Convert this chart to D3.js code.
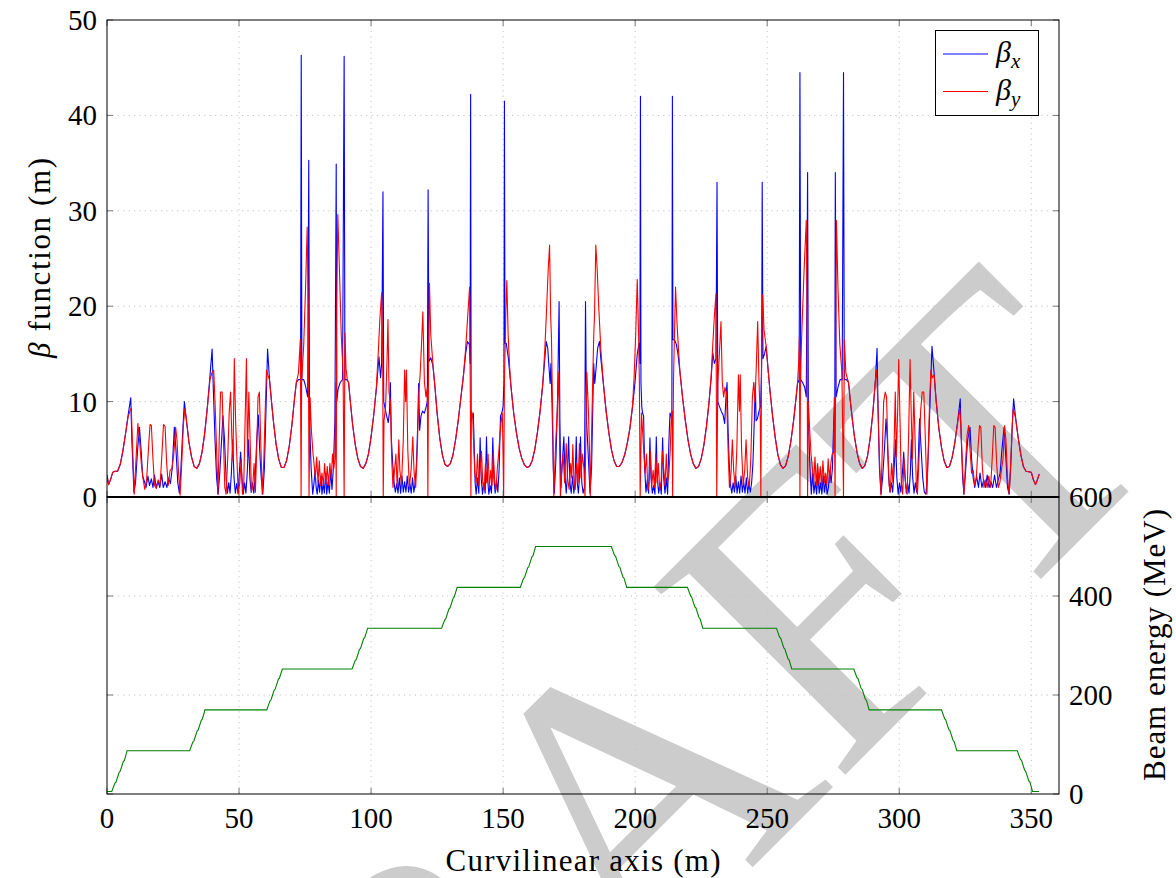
<!DOCTYPE html>
<html>
<head>
<meta charset="utf-8">
<script src="https://cdn.jsdelivr.net/npm/d3@7"></script>
<style>
  html, body { margin: 0; padding: 0; background: #fff; }
  svg { display: block; }
  .serif { font-family: "Liberation Serif"; font-kerning: none; }
</style>
</head>
<body>
<svg id="chart" width="1176" height="878"></svg>
<script>
// Curvilinear position s (m) and beta functions (m) along the lattice
const betaX = [
  [0,2.3],[0.6,1.3],[1.3,1.8],[2.2,2.6],[3,2.7],[4,2.7],[5,3.4],[6,4.8],[7,6.6],[8,8.6],[9.0,10.4],
  [9.4,6],[10.2,0.5],[10.8,1.5],[11.6,5],[12.3,7.3],[12.9,5],[13.5,2.2],[14.2,1.6],[14.8,1.0],[15.5,2.2],[16.1,1.2],[16.8,1.9],[17.4,1.0],[18.0,2.3],[18.6,1.0],[19.3,1.6],[20.0,1.0],[20.7,2.4],[21.3,1.0],[22.0,1.6],[22.7,1.0],[23.3,2.0],[24.0,1.4],[24.7,3],[25.5,7.3],[26.1,5],[26.8,1.5],[27.4,0.4],[28.0,3],[28.6,6.5],[29.3,10.0],
  [30.0,8.2],[31.0,5.8],[32.0,4.2],[33.0,3.2],[34.0,3.0],[35.0,3.5],[36.0,4.7],[37.0,6.7],[38.0,9.4],[39.0,12.7],[39.8,15.5],
  [40.3,11],[40.9,6],[41.5,2],[42.1,0.3],[42.7,2.5],[43.3,5.5],[43.9,8.5],[44.5,6],[45.1,2],[45.6,0.4],[46.1,1.5],[46.6,0.4],[47.1,2.5],[47.6,6.0],[48.1,2],[48.6,0.4],[49.1,1.4],[49.6,0.4],[50.1,2.5],[50.6,4.7],[51.1,2],[51.6,0.3],[52.1,1.5],[52.6,0.4],[53.1,2.5],[53.6,6.0],[54.1,2],[54.6,0.5],[55.1,1.5],[55.6,0.4],[56.1,2],[56.7,6],[57.3,8.6],[57.8,5],[58.4,2],[59.0,0.3],[59.6,3],[60.2,9],[60.8,15.5],
  [61.5,12.5],[62.3,10.0],[63,8.0],[64,5.6],[65,4.0],[66,3.1],[67,3.1],[68,3.8],[69,5.3],[70,7.5],[71,10.3],[71.7,12.0],
  [72.5,12.3],[73.3,12.3],[73.55,46.3],[73.8,12.3],[74.5,12.3],[75.3,11.5],[76.0,10.5],[76.4,35.3],[76.7,8],[77.3,3],[77.9,0.3],
  [78.4,1.5],[78.8,2.8],[79.2,1.0],[79.6,0.3],[80.1,1.8],[80.5,0.5],[81.0,2.2],[81.4,0.3],[81.9,1.5],[82.3,0.4],[82.8,2.5],[83.2,0.3],[83.7,1.6],[84.2,0.4],[84.7,2.8],[85.2,0.8],[85.7,3],[86.3,8],[86.8,34.9],[87.0,10],[87.5,11.3],[88.3,12.0],[89.2,12.3],[89.8,46.2],[90.1,12.3],[90.8,12.3],[91.5,12.0],
  [92,10.4],[93,7.6],[94,5.5],[95,4.0],[96,3.2],[97,3.0],[98,3.5],[99,4.5],[100,6.3],[101,8.6],[102,11.3],[103,14.7],
  [103.6,12.5],[104.0,14],[104.5,32.0],[104.8,10],[105.3,9.3],[105.9,8.5],[106.5,7.8],[107.0,9],[107.3,12.0],[107.7,6],[108.2,3.5],[108.7,1.5],
  [109.2,0.5],[109.7,1.4],[110.2,0.4],[110.7,2.0],[111.2,0.4],[111.7,2.2],[112.2,0.5],[112.7,1.6],[113.2,0.5],[113.7,2.2],[114.2,0.5],[114.7,1.4],[115.2,0.4],[115.7,2.0],[116.2,0.5],[116.7,1.5],[117.2,3.5],[117.7,8],[118.0,11.9],[118.4,7],[118.9,8.5],[119.5,9.0],[120.2,8.8],[120.9,9.5],[121.3,10],[121.6,32.2],[121.9,14.2],[122.6,14.6],[123.4,13.8],
  [124.2,11.5],[125,8.8],[126,6.2],[127,4.4],[128,3.4],[129,3.2],[130,3.5],[131,4.4],[132,6.0],[133,8.0],[134,10.4],[135,12.8],[135.8,15.0],[136.5,16.3],[137.2,16.0],[137.5,14],[137.7,42.2],[137.9,8],
  [138.3,8.5],[138.7,8.8],[139.0,6],[139.4,1.5],[139.8,0.3],[140.3,2],[140.8,0.4],[141.3,6.2],[141.7,2],[142.2,0.3],[142.7,1.5],[143.2,0.4],[143.7,6.3],[144.1,2],[144.6,0.3],[145.1,1.2],[145.6,0.4],[146.1,6.2],[146.5,2],[147.0,0.4],[147.5,1.8],[148.0,0.5],[148.5,3],[149.0,8.5],[149.5,8.8],[150.0,9.5],[150.3,12],[150.5,41.5],[150.7,16.1],[151.2,16.1],
  [152,14.5],[153,11.5],[154,8.8],[155,6.8],[156,5.2],[157,4.1],[158,3.4],[159,3.1],[160,3.2],[161,3.8],[162,5.0],[163,6.8],[164,9.0],[165,11.8],[165.8,14.5],
  [166.3,16.3],[166.9,15.6],[167.4,13.5],[167.8,11.9],[168.1,14],[168.5,10],[169.0,3],[169.4,0.4],[170.0,4],[170.6,10],[171.2,20.5],[171.5,8],[171.9,1],
  [172.3,3],[173.0,6.3],[173.5,2],[173.9,0.4],[174.3,2],[174.8,6.3],[175.3,1.5],[175.8,0.4],[176.3,2.2],[176.8,0.4],[177.2,1.5],[177.7,6.3],[178.1,1.5],[178.5,0.4],[178.9,2],[179.3,6.3],[179.8,1.5],[180.3,0.4],
  [180.8,1],[181.2,20.5],[181.6,8],[182.3,4],[182.9,0.4],[183.5,3],[184.0,10],[184.3,14],[184.7,11.9],[185.2,13.5],[185.8,15.6],[186.5,16.3],[187.0,14.5],
  [188,11.8],[189,9.0],[190,6.8],[191,5.0],[192,3.8],[193,3.2],[194,3.2],[195,3.6],[196,4.4],[197,5.6],[198,7.2],[199,9.4],[200,12.2],[200.8,15.0],[201.5,16.1],[201.8,14],[202.0,42],[202.2,12],[202.5,9.5],
  [202.8,8.8],[203.2,8.5],[203.6,3],[204.1,0.5],[204.6,1.8],[205.1,0.4],[205.6,6.2],[206.0,2],[206.5,0.4],[207.0,1.2],[207.5,0.3],[208.0,6.3],[208.4,2],[208.9,0.4],[209.4,1.5],[209.9,0.3],[210.4,6.2],[210.8,2],[211.3,0.4],[211.8,2],[212.3,0.3],[212.8,6],[213.2,8.8],[213.6,8.5],[213.9,8],[214.1,42],[214.3,16.5],[215.0,16.4],[215.6,16.0],
  [216.2,15.0],[217,13.0],[218,10.3],[219,8.0],[220,6.0],[221,4.5],[222,3.5],[223,3.0],[224,3.2],[225,4.0],[226,5.4],[227,7.4],[228,10.0],[228.8,12.5],[229.4,15.1],[230.0,14],[230.6,14.5],[231.0,33],
  [231.3,10],[231.9,9.5],[232.6,9.0],[233.3,8.6],[233.9,7.7],[234.4,10.5],[234.8,12],[235.2,7],[235.7,3],[236.1,1.3],[236.6,0.4],[237.1,1.5],[237.6,0.5],[238.1,2.2],[238.6,0.4],[239.1,1.6],[239.6,0.4],[240.1,2.2],[240.6,0.5],[241.1,1.6],[241.6,0.4],[242.1,2.0],[242.6,0.4],[243.1,1.4],[243.6,0.5],[244.1,1.5],[244.6,3.5],[245.1,7.8],[245.5,12],[245.8,8],[246.3,8.2],[246.9,9.0],[247.5,9.5],[247.9,14],[248.1,33],[248.4,14.5],[249.0,15.0],[249.6,15.8],
  [250.3,13.5],[251,11.3],[252,8.6],[253,6.3],[254,4.5],[255,3.4],[256,3.0],[257,3.3],[258,4.3],[259,5.9],[260,8.0],[261,10.6],[261.5,11.9],
  [262.1,12.3],[262.4,44.5],[262.7,12.3],[263.4,12.0],[264.2,11.5],[264.8,10.5],[265.3,34],[265.6,8],[266.2,3],[266.7,0.3],
  [267.2,2.5],[267.7,0.4],[268.2,1.6],[268.7,0.3],[269.2,2.5],[269.7,0.4],[270.2,1.5],[270.7,0.3],[271.2,2.2],[271.7,0.5],[272.2,1.8],[272.7,0.3],[273.2,1.0],[273.7,2.8],[274.2,1.5],[274.7,3],
  [275.2,8],[275.6,10],[275.8,34],[276.1,10.5],[276.8,11.5],[277.6,12.3],[278.4,12.3],[278.9,44.5],[279.2,12.3],[280.0,12.3],[280.8,12.0],
  [281.5,10.0],[282.3,8.0],[283,6.4],[284,4.7],[285,3.5],[286,3.0],[287,3.3],[288,4.3],[289,6.2],[290,8.8],[291,12.3],[291.6,15.6],
  [292.0,9],[292.5,3],[293.1,0.3],[293.7,2],[294.4,5],[295.0,8.2],[295.5,6],[296.0,2],[296.5,0.5],[297.0,1.5],[297.5,0.5],[298.0,2.5],[298.6,6.0],[299.1,2],[299.6,0.3],[300.1,1.5],[300.6,0.5],[301.2,2.5],[301.7,4.7],[302.2,2],[302.7,0.4],[303.2,1.4],[303.7,0.4],[304.2,2.5],[304.6,6.0],[305.1,2],[305.6,0.4],[306.1,1.5],[306.6,0.5],[307.1,3],[307.7,8.2],[308.3,5],[308.9,2],[309.5,0.5],[310.1,0.3],[310.6,2],[311.2,6],[311.8,11],[312.4,15.8],
  [313.2,13.0],[314,10.0],[315,7.2],[316,5.2],[317,3.8],[318,3.1],[319,3.2],[320,4.1],[321,5.6],[322,7.6],[322.7,9.3],[323.1,10.3],
  [323.5,6],[324.0,2],[324.5,0.3],[325.2,3],[325.9,6],[326.8,7.3],[327.4,4],[328.0,2],[328.6,1.0],[329.3,2.2],[330.0,1.0],[330.6,2.5],[331.3,1.0],[332.0,1.8],[332.7,1.0],[333.3,2.3],[334.0,1.0],[334.7,1.6],[335.4,1.0],[336.1,2.3],[336.8,1.0],[337.5,1.8],[338.2,2.5],[338.9,5],[339.7,7.3],[340.4,4],[341.0,1],[341.6,0.3],[342.2,3],[342.8,7.5],[343.3,10.3],
  [344,8.5],[345,6.3],[346,4.5],[347,3.2],[348,2.7],[349,2.65],[350,2.6],[350.8,1.8],[351.6,1.3],[352.3,1.8],[353.0,2.4]
];

const betaY = [
  [0,2.3],[0.6,1.3],[1.3,1.8],[2.2,2.6],[3,2.7],[4,2.7],[5,3.4],[6,4.8],[7,6.6],[8,8.4],[8.8,9.1],[9.2,9.3],
  [9.6,6],[10.3,0.3],[11.0,4],[11.7,7.7],[12.3,6],[13.0,3.5],[13.6,2.0],[14.3,0.8],[15.0,1.8],[15.8,5.5],[16.3,7.6],[16.8,7.5],[17.4,4],[18.0,1.2],[18.7,0.9],[19.4,1.8],[20.1,1.2],[20.8,4.5],[21.4,7.6],[22.0,7.4],[22.6,3.5],[23.2,1.2],[23.9,2.8],[24.6,3.0],[25.3,4.5],[26.0,7.3],[26.5,6.0],[27.1,2.5],[27.7,0.2],[28.3,3.5],[28.9,7.5],[29.5,9.3],
  [30.2,7.8],[31.0,5.8],[32.0,4.2],[33.0,3.2],[34.0,3.0],[35.0,3.5],[36.0,4.7],[37.0,6.7],[38.0,9.4],[39.0,12.3],[39.7,13.0],[40.4,13.3],
  [40.9,10],[41.5,5],[42.0,0.3],[42.5,6],[43.0,11],[43.6,11],[44.1,6],[44.6,1],[45.1,0.3],[45.7,4],[46.3,9],[46.8,11],[47.3,6],[47.7,3.8],[48.2,14.5],[48.7,8],[49.2,4],[49.7,0.3],[50.3,1.5],[50.8,4],[51.3,0.3],[51.8,1.5],[52.3,8],[52.8,14.5],[53.2,4.2],[53.7,11],[54.2,6],[54.7,0.5],[55.2,1.2],[55.7,3.5],[56.2,0.5],[56.7,5],[57.2,10.5],[57.7,11],[58.2,6],[58.8,0.3],[59.4,4],[59.9,9],[60.4,13.3],[60.9,12.8],
  [61.5,12.3],[62.3,10.0],[63,8.0],[64,5.6],[65,4.0],[66,3.1],[67,3.1],[68,3.8],[69,5.3],[70,7.5],[71,10.3],[71.7,12.0],
  [72.5,13],[73.2,16.5],[73.5,0],[73.7,12],[74.5,16],[75.2,22],[75.8,28.3],[76.2,20],[76.5,0],[76.9,10.4],[77.4,7],[78.0,4.6],
  [78.4,3.5],[78.9,2],[79.4,4.2],[79.9,1.5],[80.4,3.8],[80.9,1.2],[81.4,2.5],[81.9,1.2],[82.4,3.5],[82.9,1.4],[83.4,3.2],[83.9,1.2],[84.4,3.5],[84.9,2],[85.4,4.5],[85.9,3],[86.3,4],[86.6,12],[86.8,0],[87.0,20],[87.4,29.6],[88.0,24],[88.7,17],[89.4,13],[89.8,0],[90.1,17.2],[90.5,13.5],[91.0,12.3],[91.5,12.0],
  [92,10.4],[93,7.6],[94,5.5],[95,4.0],[96,3.2],[97,3.0],[98,3.5],[99,4.5],[100,6.3],[101,8.6],[102,11.5],[102.7,15],[103.3,18.5],[104.0,21.4],[104.4,15],[104.6,0],[104.9,8],[105.5,9.5],[106.0,14],[106.4,18.6],[106.8,11],[107.3,10],[107.8,4],[108.3,1],
  [108.8,2.5],[109.4,4.5],[109.9,1.0],[110.5,6.0],[110.9,2.8],[111.5,1.2],[112.2,6],[112.7,13.3],[113.1,10],[113.4,13.3],[113.9,5],[114.5,1.0],[115.2,3],[115.8,6.3],[116.3,2.5],[116.9,1.0],[117.5,5],[118.1,10.9],[118.6,13],[119.1,16],[119.6,19.4],[120.2,12],[120.8,10.5],[121.3,11.5],[121.5,0],[121.8,15],[122.1,22.4],[122.6,17],[123.4,14.0],
  [124.2,11.5],[125,8.8],[126,6.2],[127,4.4],[128,3.4],[129,3.2],[130,3.5],[131,4.4],[132,6.0],[133,8.0],[134,10.4],[135,12.8],[135.8,15.5],[136.5,18.5],[137.3,22.0],[137.6,10],[137.8,0],
  [138.0,9],[138.5,8.5],[138.9,5],[139.3,2.5],[139.8,1.5],[140.3,4.5],[140.8,1.2],[141.3,3],[141.8,4.8],[142.3,1.5],[142.8,0.7],[143.3,3.5],[143.8,1.5],[144.3,4.5],[144.8,1],[145.3,2.8],[145.8,1.2],[146.3,4.8],[146.8,1.5],[147.3,0.7],[147.8,3],[148.3,4.5],[148.8,6.5],[149.3,8],[149.7,8.8],[150.0,4],[150.2,0],[150.5,12],[151.0,19],[151.4,22.7],[151.9,17],[152.5,13.5],
  [153,11.5],[154,8.8],[155,6.8],[156,5.2],[157,4.1],[158,3.4],[159,3.1],[160,3.2],[161,3.8],[162,5.0],[163,6.8],[164,9.0],[165,11.8],[165.8,15.5],[166.5,20],[167.1,24],[167.6,26.4],[168.0,19],[168.3,16.8],[168.8,8],[169.2,0],[169.8,5],[170.5,9],[171.1,13.1],[171.4,5],[171.7,0],
  [172.2,3],[172.7,4.5],[173.3,1.5],[173.9,5.6],[174.4,2],[175.0,0.8],[175.6,3.5],[176.0,2],[176.4,5.5],[176.8,2],[177.3,0.8],[177.9,3.5],[178.4,1.5],[178.9,5.6],[179.5,2],[180.0,4.5],[180.6,3],[181.0,0],[181.7,13.1],[182.3,9],[182.7,5],[183.0,0],[183.6,8],[184.3,16.8],[184.6,19],[185.1,26.4],[185.6,24],[186.2,20],[187.0,15.5],
  [188,11.8],[189,9.0],[190,6.8],[191,5.0],[192,3.8],[193,3.2],[194,3.2],[195,3.6],[196,4.4],[197,5.6],[198,7.2],[199,9.6],[199.6,12.5],[200.2,17],[200.8,22.8],[201.3,17],[201.6,12],[201.9,0],
  [202.4,8.8],[202.8,7],[203.3,4.5],[203.8,2.5],[204.3,4.5],[204.8,0.7],[205.3,1.5],[205.8,4.8],[206.3,1.2],[206.8,2.8],[207.3,1],[207.8,4.5],[208.3,1.5],[208.8,3.5],[209.3,0.7],[209.8,1.5],[210.3,4.8],[210.8,3],[211.3,1.2],[211.8,4.5],[212.3,1.5],[212.8,2.5],[213.3,5],[213.7,8.5],[214.0,9],[214.2,0],[214.5,12],[215.0,18.5],[215.3,22.0],[215.8,18.5],[216.4,15.5],
  [217,13.0],[218,10.3],[219,8.0],[220,6.0],[221,4.5],[222,3.5],[223,3.0],[224,3.2],[225,4.0],[226,5.4],[227,7.4],[228,10.0],[228.8,12.8],[229.4,16],[230.0,19],[230.6,21.3],[230.9,0],
  [231.3,12],[231.9,15],[232.5,18.4],[233.0,12],[233.5,10.5],[234.0,11.5],[234.6,10.8],[235.2,5],[235.7,1.0],[236.3,2.5],[236.8,6.0],[237.3,2.8],[237.9,1.0],[238.5,5],[239.1,12.8],[239.5,9],[239.8,12.8],[240.3,5],[240.9,1.2],[241.5,2.8],[242.0,6.0],[242.6,2],[243.2,1.0],[243.8,4],[244.4,10.5],[244.9,12],[245.4,10],[245.9,14],[246.4,18.4],[246.9,12],[247.4,8],[247.6,0],[247.9,15],[248.3,21.2],[248.8,17.5],[249.6,15.8],
  [250.3,13.5],[251,11.3],[252,8.6],[253,6.3],[254,4.5],[255,3.4],[256,3.0],[257,3.3],[258,4.3],[259,5.9],[260,8.0],[261,10.6],[261.5,12.0],[261.9,14],[262.2,16.8],[262.4,0],[262.6,13],[263.2,18],[264.0,24],[264.8,29],[265.1,20],[265.3,0],[265.6,10],[266.1,7],[266.6,4.5],
  [267.1,3],[267.6,1.5],[268.1,4.2],[268.6,1.2],[269.1,3.5],[269.6,1.4],[270.1,3.2],[270.6,1.2],[271.1,3.8],[271.6,1.5],[272.1,2.5],[272.6,1.2],[273.1,4.0],[273.6,1.5],[274.1,3.5],[274.6,4.5],[275.1,4.6],[275.4,10.4],[275.7,0],[276.2,29],[276.8,22],[277.5,16],[278.3,13],[278.9,0],[279.2,16.5],[279.8,13],[280.8,12.0],
  [281.5,10.0],[282.3,8.0],[283,6.4],[284,4.7],[285,3.5],[286,3.0],[287,3.3],[288,4.3],[289,6.2],[290,8.8],[291,12.3],[291.4,13.3],
  [291.9,10],[292.5,4],[293.1,0.2],[293.6,5],[294.1,10],[294.7,11.0],[295.2,10.5],[295.7,5],[296.2,1.2],[296.6,0.5],[297.1,3.5],[297.6,1.5],[298.1,6],[298.5,11.0],[298.9,4.2],[299.4,9],[299.8,14.4],[300.3,8],[300.8,1.5],[301.3,0.3],[301.8,4],[302.4,1.5],[303.0,0.3],[303.6,7],[304.1,14.4],[304.6,8],[305.0,4],[305.5,11.0],[306.0,6],[306.5,1],[306.9,0.3],[307.5,4],[308.1,9],[308.7,11.0],[309.3,11.0],[309.9,6],[310.5,0.3],[311.0,5],[311.5,10],[312.0,13.3],[312.5,12.5],
  [313.2,12.8],[314,10.0],[315,7.2],[316,5.2],[317,3.8],[318,3.1],[319,3.2],[320,4.1],[321,5.6],[322,7.6],[322.9,9.3],
  [323.4,7],[324.0,3],[324.5,0.3],[325.1,3.5],[325.7,6.5],[326.3,7.5],[326.8,5],[327.4,2.5],[328.0,2.8],[328.6,1.2],[329.2,2],[329.8,5],[330.4,7.5],[330.9,7.3],[331.5,3],[332.1,1],[332.7,1.8],[333.3,1.0],[333.9,2.2],[334.6,1],[335.2,4],[335.8,7.5],[336.3,7.3],[336.9,3.5],[337.5,1],[338.1,1.5],[338.7,2.8],[339.3,4],[339.9,7.5],[340.4,6],[341.0,2],[341.6,0.3],[342.2,3.5],[342.8,7.5],[343.2,9.3],
  [344,8.3],[345,6.3],[346,4.5],[347,3.2],[348,2.7],[349,2.65],[350,2.6],[350.8,1.8],[351.6,1.3],[352.3,1.8],[353.0,2.4]
];

// Beam energy (MeV) along s: six accelerating passes up, six decelerating passes down
const beamEnergy = [
  [0,5],[1.8,5],[3.0,22],[3.4,24],[4.6,44],[5.0,46],[6.2,66],[6.6,68],[7.6,87.5],
  [31.3,87.5],[32.5,105],[32.9,107],[34.1,127],[34.5,129],[35.7,149],[36.1,151],[37.1,170],
  [60.5,170],[61.7,188],[62.1,190],[63.3,210],[63.7,212],[64.9,232],[65.3,234],[66.4,252.5],
  [92.8,252.5],[94.0,270],[94.4,272],[95.6,292],[96.0,294],[97.2,314],[97.6,316],[98.7,335],
  [126.7,335],[127.9,352],[128.3,354],[129.5,374],[129.9,376],[131.1,396],[131.5,398],[132.6,417.5],
  [156.5,417.5],[157.7,435],[158.1,437],[159.3,457],[159.7,459],[160.9,479],[161.3,481],[162.3,500],
  [191.0,500],[192.2,482],[192.6,480],[193.8,460],[194.2,458],[195.4,438],[195.8,436],[196.8,417.5],
  [219.8,417.5],[221.0,400],[221.4,398],[222.6,378],[223.0,376],[224.2,356],[224.6,354],[225.6,335],
  [253.5,335],[254.7,317],[255.1,315],[256.3,295],[256.7,293],[257.9,273],[258.3,271],[259.3,252.5],
  [282.8,252.5],[284.0,235],[284.4,233],[285.6,213],[286.0,211],[287.2,191],[287.6,189],[288.6,170],
  [316.0,170],[317.2,152],[317.6,150],[318.8,130],[319.2,128],[320.4,108],[320.8,106],[321.8,87.5],
  [344.7,87.5],[345.9,70],[346.3,68],[347.5,48],[347.9,46],[349.1,26],[349.5,24],[350.5,5],[352.9,5]
];

const sTicks = [0, 50, 100, 150, 200, 250, 300, 350];
const betaTicks = [0, 10, 20, 30, 40, 50];
const energyTicks = [0, 200, 400, 600];

const svg = d3.select("#chart");
const W = 1176, H = 878;
const left = 107, right = 1059, topY = 20, midY = 497, bottomY = 794;

svg.append("rect").attr("width", W).attr("height", H).attr("fill", "#fff");

const x = d3.scaleLinear().domain([0, 360.5]).range([left, right]);
const yBeta = d3.scaleLinear().domain([0, 50]).range([midY, topY]);
const yEnergy = d3.scaleLinear().domain([0, 600]).range([bottomY, midY]);

// Draft stamp, drawn first so the plot sits on top of it; clipped to the page
svg.append("defs").append("clipPath").attr("id", "clipPage").append("rect")
  .attr("x", 0).attr("y", 0).attr("width", W).attr("height", H);
svg.append("g").attr("clip-path", "url(#clipPage)")
  .append("text").attr("class", "serif")
  .attr("transform", "translate(223,1397) rotate(-45)")
  .attr("text-anchor", "start")
  .style("font-size", "410px")
  .style("fill", "#cccccc")
  .text("DRAFT");

// Grids (dotted)
const grid = svg.append("g").attr("stroke", "#c4c4c4").attr("stroke-width", 1)
  .attr("stroke-dasharray", "1.2,4.2").attr("fill", "none");
sTicks.filter(d => d > 0).forEach(d => {
  grid.append("line").attr("x1", x(d)).attr("x2", x(d)).attr("y1", topY).attr("y2", bottomY);
});
betaTicks.filter(d => d > 0 && d < 50).forEach(d => {
  grid.append("line").attr("x1", left).attr("x2", right).attr("y1", yBeta(d)).attr("y2", yBeta(d));
});
energyTicks.filter(d => d > 0 && d < 600).forEach(d => {
  grid.append("line").attr("x1", left).attr("x2", right).attr("y1", yEnergy(d)).attr("y2", yEnergy(d));
});

// Tick marks (inward, both panels)
const ticks = svg.append("g").attr("stroke", "#777").attr("stroke-width", 1);
const tl = 6;
sTicks.forEach(d => {
  const xx = x(d);
  ticks.append("line").attr("x1", xx).attr("x2", xx).attr("y1", topY).attr("y2", topY + tl);
  ticks.append("line").attr("x1", xx).attr("x2", xx).attr("y1", midY - tl).attr("y2", midY + tl);
  ticks.append("line").attr("x1", xx).attr("x2", xx).attr("y1", bottomY - tl).attr("y2", bottomY);
});
betaTicks.forEach(d => {
  const yy = yBeta(d);
  ticks.append("line").attr("x1", left).attr("x2", left + tl).attr("y1", yy).attr("y2", yy);
  ticks.append("line").attr("x1", right - tl).attr("x2", right).attr("y1", yy).attr("y2", yy);
});
energyTicks.forEach(d => {
  const yy = yEnergy(d);
  ticks.append("line").attr("x1", left).attr("x2", left + tl).attr("y1", yy).attr("y2", yy);
  ticks.append("line").attr("x1", right - tl).attr("x2", right).attr("y1", yy).attr("y2", yy);
});

// Clip regions for the curves
const defs = svg.append("defs");
defs.append("clipPath").attr("id", "clipTop").append("rect")
  .attr("x", left).attr("y", topY).attr("width", right - left).attr("height", midY - topY + 1);
defs.append("clipPath").attr("id", "clipBot").append("rect")
  .attr("x", left).attr("y", midY).attr("width", right - left).attr("height", bottomY - midY);

const line = d3.line().x(d => x(d[0])).y(d => yBeta(d[1])).curve(d3.curveLinear);
const eLine = d3.line().x(d => x(d[0])).y(d => yEnergy(d[1])).curve(d3.curveLinear);

const plot = svg.append("g").attr("clip-path", "url(#clipTop)");
plot.append("path").datum(betaX).attr("d", line)
  .attr("fill", "none").attr("stroke", "#0000ff").attr("stroke-width", 1.1).attr("stroke-linejoin", "round");
plot.append("path").datum(betaY).attr("d", line)
  .attr("fill", "none").attr("stroke", "#ff0000").attr("stroke-width", 1.1).attr("stroke-linejoin", "round");

svg.append("g").attr("clip-path", "url(#clipBot)")
  .append("path").datum(beamEnergy).attr("d", eLine)
  .attr("fill", "none").attr("stroke", "#008000").attr("stroke-width", 1.1);

// Frames
const frame = svg.append("g").attr("fill", "none").attr("stroke", "#000");
frame.append("rect").attr("x", left).attr("y", topY).attr("width", right - left).attr("height", midY - topY).attr("stroke-width", 1);
frame.append("rect").attr("x", left).attr("y", midY).attr("width", right - left).attr("height", bottomY - midY).attr("stroke-width", 1);
frame.append("line").attr("x1", left).attr("x2", right).attr("y1", midY).attr("y2", midY).attr("stroke-width", 2);

// Tick labels
const lbl = svg.append("g").attr("class", "serif").style("font-size", "29px");
sTicks.forEach(d => {
  lbl.append("text").attr("x", x(d)).attr("y", 828).attr("text-anchor", "middle").text(d);
});
betaTicks.forEach(d => {
  lbl.append("text").attr("x", 97).attr("y", yBeta(d) + 10).attr("text-anchor", "end").text(d);
});
energyTicks.forEach(d => {
  lbl.append("text").attr("x", 1069).attr("y", yEnergy(d) + 10).attr("text-anchor", "start").text(d);
});

// Axis titles
svg.append("text").attr("class", "serif").attr("x", 583).attr("y", 871).attr("text-anchor", "middle")
  .style("font-size", "31px").attr("textLength", 275).attr("lengthAdjust", "spacing")
  .text("Curvilinear axis (m)");

const yTitle = svg.append("text").attr("class", "serif").attr("transform", "translate(50,258) rotate(-90)")
  .attr("text-anchor", "middle").style("font-size", "31px")
  .attr("textLength", 200).attr("lengthAdjust", "spacing");
yTitle.append("tspan").style("font-style", "italic").text("β");
yTitle.append("tspan").text(" function (m)");

svg.append("text").attr("class", "serif").attr("transform", "translate(1165,645) rotate(-90)")
  .attr("text-anchor", "middle").style("font-size", "31px")
  .attr("textLength", 272).attr("lengthAdjust", "spacing")
  .text("Beam energy (MeV)");

// Legend
const lg = svg.append("g");
lg.append("rect").attr("x", 935.5).attr("y", 30.5).attr("width", 103).attr("height", 85)
  .attr("fill", "#fff").attr("stroke", "#000").attr("stroke-width", 1);
const legendItems = [
  { sub: "x", color: "#0000ff", y: 54 },
  { sub: "y", color: "#ff0000", y: 91.5 }
];
legendItems.forEach(it => {
  lg.append("line").attr("x1", 943).attr("x2", 988).attr("y1", it.y).attr("y2", it.y)
    .attr("stroke", it.color).attr("stroke-width", 1.1);
  const t = lg.append("text").attr("class", "serif").attr("x", 996).attr("y", it.y + 8)
    .style("font-size", "30px").style("font-style", "italic");
  t.append("tspan").text("β");
  t.append("tspan").attr("dy", 6).style("font-size", "21px").text(it.sub);
});
</script>
</body>
</html>
